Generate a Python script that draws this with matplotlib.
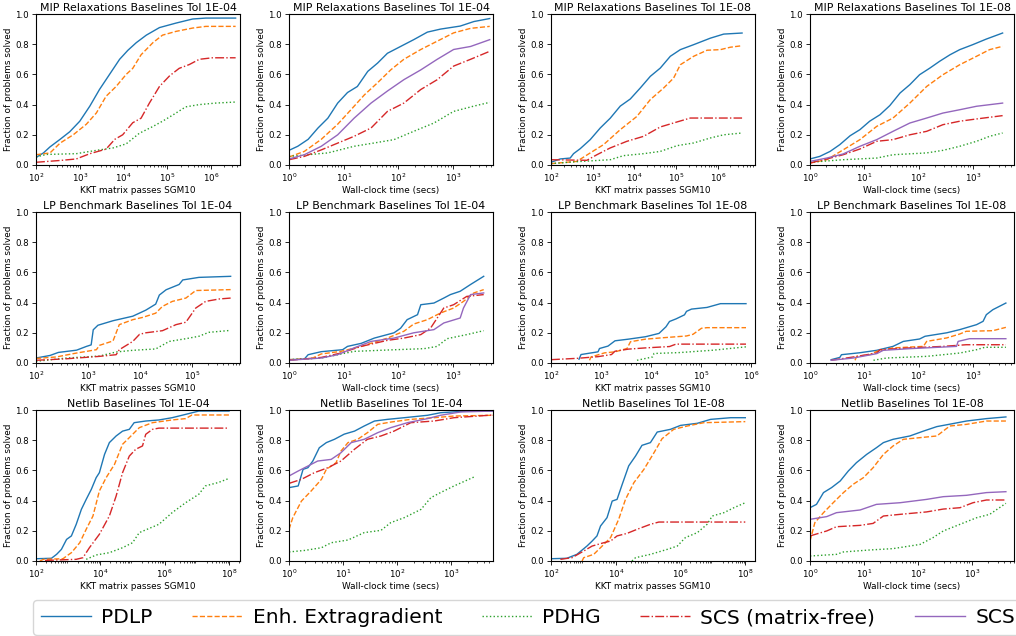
import numpy as np
import matplotlib
matplotlib.use('Agg')
import matplotlib.pyplot as plt

# curves are lists of (log10 of x, fraction solved)

# --- MIP Relaxations, tol 1E-04, KKT passes
mip4_kkt_pdlp = [(2.0, 0.05), (2.17, 0.08), (2.32, 0.12), (2.55, 0.17), (2.77, 0.22), (3.0, 0.29), (3.23, 0.39),
                 (3.45, 0.50), (3.68, 0.60), (3.91, 0.70), (4.1, 0.76), (4.29, 0.81), (4.52, 0.86), (4.82, 0.91),
                 (5.2, 0.94), (5.58, 0.967), (5.88, 0.973), (6.56, 0.973)]
mip4_kkt_eeg = [(2.0, 0.068), (2.32, 0.08), (2.55, 0.145), (2.85, 0.2), (3.15, 0.27), (3.38, 0.345), (3.6, 0.455),
                (3.83, 0.52), (4.06, 0.6), (4.21, 0.64), (4.4, 0.73), (4.67, 0.81), (4.89, 0.86), (5.2, 0.885),
                (5.58, 0.907), (5.88, 0.918), (6.56, 0.918)]
mip4_kkt_pdhg = [(2.0, 0.053), (2.24, 0.07), (2.92, 0.075), (3.38, 0.097), (3.76, 0.113), (4.06, 0.14), (4.36, 0.21),
                 (4.67, 0.255), (4.89, 0.29), (5.12, 0.33), (5.42, 0.385), (5.73, 0.4), (6.1, 0.41), (6.56, 0.417)]
mip4_kkt_scsmf = [(2.0, 0.018), (2.55, 0.03), (2.92, 0.04), (3.23, 0.075), (3.6, 0.105), (3.8, 0.17), (3.98, 0.2),
                  (4.21, 0.28), (4.4, 0.31), (4.59, 0.41), (4.82, 0.52), (5.05, 0.59), (5.27, 0.64), (5.5, 0.665),
                  (5.73, 0.7), (6.03, 0.71), (6.56, 0.71)]

# --- MIP Relaxations, tol 1E-04, wall-clock
mip4_time_pdlp = [(0, 0.097), (0.16, 0.124), (0.35, 0.17), (0.53, 0.245), (0.71, 0.31), (0.89, 0.41), (1.07, 0.48),
                  (1.25, 0.52), (1.44, 0.62), (1.62, 0.675), (1.8, 0.74), (2.04, 0.785), (2.28, 0.83), (2.53, 0.88),
                  (2.77, 0.9), (3.13, 0.92), (3.38, 0.95), (3.67, 0.97)]
mip4_time_eeg = [(0, 0.053), (0.28, 0.09), (0.59, 0.17), (0.89, 0.27), (1.13, 0.365), (1.38, 0.465), (1.62, 0.545),
                 (1.86, 0.63), (2.1, 0.7), (2.41, 0.765), (2.71, 0.82), (3.01, 0.875), (3.32, 0.905), (3.67, 0.918)]
mip4_time_pdhg = [(0, 0.057), (0.28, 0.066), (0.71, 0.08), (1.19, 0.124), (1.56, 0.146), (1.92, 0.168), (2.28, 0.223),
                  (2.65, 0.278), (3.01, 0.355), (3.38, 0.39), (3.67, 0.415)]
mip4_time_scsmf = [(0, 0.035), (0.28, 0.057), (0.59, 0.1), (0.89, 0.145), (1.19, 0.19), (1.5, 0.245), (1.8, 0.355),
                   (2.1, 0.41), (2.41, 0.5), (2.71, 0.565), (3.01, 0.655), (3.32, 0.7), (3.67, 0.753)]
mip4_time_scs = [(0, 0.04), (0.28, 0.068), (0.59, 0.124), (0.89, 0.2), (1.19, 0.31), (1.5, 0.41), (1.8, 0.49),
                 (2.1, 0.565), (2.41, 0.63), (2.71, 0.7), (3.01, 0.765), (3.32, 0.785), (3.67, 0.83)]

# --- MIP Relaxations, tol 1E-08, KKT passes
mip8_kkt_pdlp = [(2, 0.018), (2.22, 0.04), (2.46, 0.046), (2.54, 0.075), (2.7, 0.108), (2.94, 0.168), (3.18, 0.245),
                 (3.42, 0.31), (3.66, 0.39), (3.9, 0.437), (4.14, 0.51), (4.38, 0.587), (4.62, 0.642), (4.86, 0.72),
                 (5.1, 0.764), (5.42, 0.797), (5.82, 0.84), (6.14, 0.867), (6.58, 0.874)]
mip8_kkt_eeg = [(2, 0.009), (2.62, 0.024), (2.94, 0.08), (3.26, 0.135), (3.66, 0.234), (4.06, 0.322), (4.38, 0.433),
                (4.7, 0.51), (4.94, 0.576), (5.1, 0.664), (5.42, 0.72), (5.74, 0.76), (6.06, 0.764), (6.3, 0.78),
                (6.58, 0.79)]
mip8_kkt_pdhg = [(2, 0.009), (2.62, 0.022), (3.42, 0.035), (3.74, 0.062), (4.22, 0.075), (4.62, 0.09), (5.02, 0.128),
                 (5.42, 0.146), (5.82, 0.179), (6.14, 0.2), (6.58, 0.212)]
mip8_kkt_scsmf = [(2, 0.035), (2.86, 0.031), (3.1, 0.068), (3.42, 0.113), (3.82, 0.157), (4.22, 0.19), (4.62, 0.252),
                  (5.02, 0.285), (5.34, 0.311), (6.58, 0.311)]

# --- MIP Relaxations, tol 1E-08, wall-clock
mip8_time_pdlp = [(0, 0.04), (0.18, 0.057), (0.37, 0.09), (0.55, 0.135), (0.74, 0.194), (0.92, 0.234), (1.1, 0.29),
                  (1.29, 0.333), (1.47, 0.393), (1.66, 0.477), (1.84, 0.532), (2.02, 0.598), (2.21, 0.642),
                  (2.39, 0.687), (2.58, 0.73), (2.76, 0.764), (3.0, 0.797), (3.25, 0.834), (3.55, 0.874)]
mip8_time_eeg = [(0, 0.013), (0.31, 0.035), (0.61, 0.1), (0.92, 0.168), (1.23, 0.256), (1.53, 0.311), (1.84, 0.41),
                 (2.15, 0.52), (2.45, 0.598), (2.76, 0.664), (3.07, 0.72), (3.31, 0.764), (3.55, 0.786)]
mip8_time_pdhg = [(0, 0.018), (0.61, 0.035), (1.23, 0.046), (1.53, 0.068), (2.15, 0.08), (2.45, 0.097), (2.76, 0.124),
                  (3.07, 0.157), (3.31, 0.19), (3.55, 0.212)]
mip8_time_scsmf = [(0, 0.013), (0.31, 0.04), (0.61, 0.068), (0.92, 0.106), (1.23, 0.157), (1.53, 0.168), (1.84, 0.2),
                   (2.15, 0.223), (2.45, 0.267), (2.76, 0.29), (3.07, 0.305), (3.55, 0.327)]
mip8_time_scs = [(0, 0.024), (0.31, 0.046), (0.61, 0.073), (0.92, 0.124), (1.23, 0.168), (1.53, 0.223), (1.84, 0.278),
                 (2.15, 0.311), (2.45, 0.344), (2.76, 0.366), (3.07, 0.389), (3.55, 0.41)]

# --- LP Benchmark, tol 1E-04, KKT passes
lp4_kkt_pdlp = [(2, 0.033), (2.27, 0.05), (2.43, 0.07), (2.78, 0.085), (2.97, 0.11), (3.06, 0.12), (3.1, 0.22),
                (3.19, 0.25), (3.48, 0.28), (3.86, 0.31), (4.11, 0.35), (4.3, 0.39), (4.37, 0.45), (4.5, 0.485),
                (4.75, 0.52), (4.82, 0.55), (5.13, 0.567), (5.74, 0.574)]
lp4_kkt_eeg = [(2, 0.03), (2.39, 0.04), (2.78, 0.066), (3.16, 0.088), (3.22, 0.117), (3.48, 0.146), (3.6, 0.254),
               (3.86, 0.287), (4.05, 0.302), (4.3, 0.33), (4.43, 0.375), (4.62, 0.408), (4.88, 0.43), (5.07, 0.48),
               (5.74, 0.486)]
lp4_kkt_pdhg = [(2, 0.011), (2.59, 0.033), (3.22, 0.046), (3.54, 0.073), (3.86, 0.084), (4.3, 0.093), (4.56, 0.143),
                (4.88, 0.161), (5.13, 0.177), (5.32, 0.203), (5.74, 0.216)]
lp4_kkt_scsmf = [(2, 0.018), (2.59, 0.028), (3.22, 0.044), (3.54, 0.055), (3.6, 0.088), (3.86, 0.143), (3.99, 0.19),
                 (4.11, 0.2), (4.43, 0.214), (4.69, 0.254), (4.88, 0.27), (5.07, 0.364), (5.26, 0.408), (5.52, 0.424),
                 (5.74, 0.43)]

# --- LP Benchmark, tol 1E-04, wall-clock
lp4_time_pdlp = [(0, 0.022), (0.28, 0.026), (0.35, 0.055), (0.59, 0.075), (0.98, 0.088), (1.07, 0.11), (1.32, 0.13),
                 (1.56, 0.165), (1.92, 0.2), (2.04, 0.23), (2.16, 0.287), (2.35, 0.32), (2.41, 0.386), (2.65, 0.397),
                 (2.83, 0.43), (2.95, 0.453), (3.13, 0.475), (3.32, 0.52), (3.56, 0.574)]
lp4_time_eeg = [(0, 0.022), (0.41, 0.029), (0.59, 0.06), (0.95, 0.077), (1.32, 0.11), (1.8, 0.165), (2.1, 0.21),
                (2.28, 0.258), (2.53, 0.287), (2.77, 0.331), (3.01, 0.364), (3.19, 0.408), (3.38, 0.464), (3.56, 0.486)]
lp4_time_pdhg = [(0, 0.022), (0.59, 0.033), (1.19, 0.077), (1.8, 0.086), (2.47, 0.095), (2.71, 0.11), (2.89, 0.161),
                 (3.25, 0.188), (3.56, 0.214)]
lp4_time_scsmf = [(0, 0.018), (0.59, 0.037), (0.95, 0.066), (1.32, 0.11), (1.8, 0.15), (2.1, 0.165), (2.41, 0.188),
                  (2.59, 0.232), (2.71, 0.298), (2.83, 0.364), (3.01, 0.386), (3.25, 0.441), (3.56, 0.453)]
lp4_time_scs = [(0, 0.018), (0.59, 0.033), (0.89, 0.055), (1.19, 0.1), (1.5, 0.143), (1.92, 0.165), (2.28, 0.2),
                (2.65, 0.221), (2.83, 0.265), (3.13, 0.298), (3.19, 0.364), (3.32, 0.453), (3.56, 0.464)]

# --- LP Benchmark, tol 1E-08, KKT passes
lp8_kkt_pdlp = [(2.56, 0.025), (2.6, 0.056), (2.94, 0.074), (2.97, 0.096), (3.14, 0.112), (3.28, 0.147), (3.55, 0.158),
                (3.89, 0.174), (4.16, 0.196), (4.3, 0.24), (4.37, 0.275), (4.5, 0.292), (4.67, 0.319), (4.71, 0.342),
                (4.81, 0.357), (5.12, 0.368), (5.39, 0.393), (5.9, 0.393)]
lp8_kkt_eeg = [(2.77, 0.018), (2.8, 0.04), (3.07, 0.067), (3.28, 0.074), (3.52, 0.096), (3.59, 0.141), (3.89, 0.158),
               (4.23, 0.167), (4.71, 0.179), (4.84, 0.19), (5.01, 0.23), (5.12, 0.234), (5.9, 0.234)]
lp8_kkt_pdhg = [(3.72, 0.018), (4.03, 0.04), (4.06, 0.063), (4.57, 0.069), (5.25, 0.085), (5.9, 0.107)]
lp8_kkt_scsmf = [(2, 0.022), (2.53, 0.031), (2.94, 0.042), (3.21, 0.056), (3.28, 0.078), (3.55, 0.092), (3.89, 0.1),
                 (4.37, 0.109), (4.5, 0.125), (5.9, 0.125)]

# --- LP Benchmark, tol 1E-08, wall-clock
lp8_time_pdlp = [(0.39, 0.022), (0.55, 0.037), (0.58, 0.055), (0.92, 0.068), (1.23, 0.084), (1.53, 0.11), (1.72, 0.143),
                 (2.02, 0.159), (2.12, 0.177), (2.52, 0.2), (2.76, 0.221), (3.07, 0.254), (3.19, 0.276), (3.25, 0.32),
                 (3.37, 0.353), (3.61, 0.397)]
lp8_time_eeg = [(0.83, 0.018), (0.86, 0.044), (1.1, 0.055), (1.23, 0.077), (1.53, 0.1), (2.09, 0.11), (2.15, 0.143),
                (2.52, 0.166), (2.76, 0.192), (2.88, 0.21), (3.37, 0.214), (3.61, 0.236)]
lp8_time_pdhg = [(1.17, 0.018), (1.41, 0.033), (2.15, 0.044), (2.76, 0.066), (3.07, 0.088), (3.22, 0.104), (3.61, 0.104)]
lp8_time_scsmf = [(0.39, 0.018), (0.8, 0.04), (1.23, 0.066), (1.29, 0.088), (1.84, 0.1), (2.45, 0.11), (2.88, 0.121),
                  (3.61, 0.121)]
lp8_time_scs = [(0.39, 0.018), (0.8, 0.033), (1.23, 0.062), (1.35, 0.084), (1.84, 0.095), (2.7, 0.11), (2.73, 0.143),
                (2.94, 0.161), (3.61, 0.161)]

# --- Netlib, tol 1E-04, KKT passes
net4_kkt_pdlp = [(2, 0.015), (2.48, 0.018), (2.64, 0.044), (2.79, 0.077), (2.95, 0.143), (3.1, 0.166), (3.25, 0.243),
                 (3.41, 0.342), (3.56, 0.408), (3.72, 0.475), (3.87, 0.552), (3.97, 0.585), (4.13, 0.706),
                 (4.28, 0.784), (4.49, 0.828), (4.69, 0.86), (4.9, 0.872), (5.05, 0.916), (5.41, 0.927),
                 (5.82, 0.934), (6.23, 0.949), (6.65, 0.971), (7.06, 0.993), (8.0, 0.993)]
net4_kkt_eeg = [(2.12, 0.0), (2.23, 0.011), (2.84, 0.015), (2.95, 0.033), (3.1, 0.055), (3.36, 0.121), (3.56, 0.21),
                (3.77, 0.298), (3.97, 0.464), (4.18, 0.552), (4.44, 0.64), (4.69, 0.773), (4.9, 0.817), (5.21, 0.883),
                (5.62, 0.916), (6.23, 0.934), (6.65, 0.943), (6.85, 0.967), (8.0, 0.967)]
net4_kkt_pdhg = [(3.56, 0.011), (3.87, 0.04), (4.28, 0.055), (4.69, 0.088), (5.0, 0.121), (5.21, 0.188), (5.82, 0.243),
                 (6.23, 0.32), (6.65, 0.386), (7.06, 0.442), (7.26, 0.497), (7.67, 0.52), (8.0, 0.547)]
net4_kkt_scsmf = [(2.28, 0.004), (3.25, 0.011), (3.46, 0.022), (3.66, 0.088), (3.97, 0.177), (4.28, 0.298),
                  (4.49, 0.43), (4.69, 0.585), (4.9, 0.695), (5.1, 0.74), (5.31, 0.762), (5.41, 0.839), (5.62, 0.872),
                  (5.82, 0.88), (8.0, 0.88)]

# --- Netlib, tol 1E-04, wall-clock
net4_time_pdlp = [(0, 0.486), (0.17, 0.497), (0.26, 0.607), (0.35, 0.618), (0.44, 0.662), (0.56, 0.75), (0.69, 0.784),
                  (0.84, 0.806), (1.02, 0.84), (1.21, 0.86), (1.39, 0.894), (1.58, 0.927), (1.82, 0.938),
                  (2.13, 0.949), (2.56, 0.965), (2.8, 0.982), (3.29, 0.993), (3.77, 0.993)]
net4_time_eeg = [(0, 0.21), (0.07, 0.287), (0.23, 0.397), (0.41, 0.464), (0.6, 0.541), (0.69, 0.607), (0.87, 0.651),
                 (0.96, 0.728), (1.09, 0.784), (1.27, 0.806), (1.45, 0.85), (1.64, 0.905), (1.88, 0.92), (2.25, 0.938),
                 (2.68, 0.949), (3.05, 0.96), (3.77, 0.965)]
net4_time_pdhg = [(0, 0.06), (0.29, 0.07), (0.6, 0.088), (0.78, 0.121), (1.09, 0.139), (1.39, 0.188), (1.7, 0.203),
                  (1.88, 0.254), (2.13, 0.287), (2.44, 0.342), (2.62, 0.419), (2.8, 0.453), (3.05, 0.497),
                  (3.43, 0.558)]
net4_time_scsmf = [(0, 0.514), (0.23, 0.541), (0.47, 0.585), (0.72, 0.618), (0.96, 0.662), (1.21, 0.74), (1.45, 0.806),
                   (1.7, 0.828), (1.94, 0.86), (2.25, 0.916), (2.68, 0.927), (3.05, 0.949), (3.77, 0.967)]
net4_time_scs = [(0, 0.563), (0.17, 0.596), (0.35, 0.629), (0.53, 0.662), (0.78, 0.673), (0.96, 0.717), (1.15, 0.784),
                 (1.39, 0.806), (1.64, 0.85), (1.88, 0.883), (2.19, 0.916), (2.56, 0.943), (2.8, 0.965), (3.17, 0.987),
                 (3.77, 0.993)]

# --- Netlib, tol 1E-08, KKT passes
net8_kkt_pdlp = [(2, 0.015), (2.49, 0.018), (2.8, 0.044), (3.11, 0.099), (3.27, 0.132), (3.42, 0.166), (3.53, 0.232),
                 (3.73, 0.287), (3.89, 0.397), (4.04, 0.408), (4.2, 0.508), (4.4, 0.63), (4.61, 0.695), (4.81, 0.766),
                 (5.07, 0.784), (5.28, 0.854), (5.69, 0.872), (6.0, 0.898), (6.52, 0.912), (6.93, 0.938),
                 (7.55, 0.949), (8.0, 0.949)]
net8_kkt_eeg = [(2.96, 0.0), (3.01, 0.022), (3.32, 0.044), (3.58, 0.099), (3.84, 0.155), (4.09, 0.276), (4.3, 0.408),
                (4.56, 0.519), (4.87, 0.607), (5.18, 0.717), (5.43, 0.81), (5.79, 0.872), (6.21, 0.894), (6.72, 0.916),
                (8.0, 0.923)]
net8_kkt_pdhg = [(4.5, 0.0), (4.61, 0.022), (5.07, 0.044), (5.59, 0.077), (5.9, 0.099), (6.15, 0.155), (6.52, 0.188),
                 (6.82, 0.243), (6.98, 0.298), (7.34, 0.32), (7.65, 0.353), (8.0, 0.386)]
net8_kkt_scsmf = [(2.29, 0.011), (2.65, 0.022), (3.01, 0.066), (3.27, 0.099), (3.63, 0.121), (3.84, 0.132),
                  (4.04, 0.166), (4.35, 0.183), (4.66, 0.21), (5.07, 0.243), (5.33, 0.258), (8.0, 0.258)]

# --- Netlib, tol 1E-08, wall-clock
net8_time_pdlp = [(0, 0.353), (0.12, 0.375), (0.25, 0.453), (0.4, 0.486), (0.56, 0.53), (0.71, 0.596), (0.86, 0.651),
                  (1.05, 0.706), (1.23, 0.75), (1.36, 0.784), (1.54, 0.806), (1.85, 0.828), (2.1, 0.86), (2.35, 0.89),
                  (2.65, 0.91), (2.9, 0.927), (3.27, 0.943), (3.63, 0.954)]
net8_time_eeg = [(0, 0.132), (0.09, 0.254), (0.25, 0.32), (0.43, 0.386), (0.62, 0.453), (0.8, 0.508), (0.99, 0.552),
                 (1.17, 0.618), (1.36, 0.706), (1.54, 0.762), (1.73, 0.806), (2.04, 0.817), (2.35, 0.828),
                 (2.59, 0.894), (2.9, 0.905), (3.27, 0.927), (3.63, 0.927)]
net8_time_pdhg = [(0, 0.033), (0.49, 0.044), (0.62, 0.06), (1.11, 0.073), (1.54, 0.082), (2.04, 0.11), (2.28, 0.155),
                  (2.47, 0.199), (2.78, 0.243), (3.09, 0.287), (3.33, 0.309), (3.63, 0.382)]
net8_time_scsmf = [(0, 0.166), (0.31, 0.199), (0.49, 0.227), (0.93, 0.236), (1.17, 0.249), (1.36, 0.298),
                   (1.67, 0.309), (2.16, 0.325), (2.47, 0.344), (2.78, 0.353), (3.02, 0.386), (3.27, 0.404),
                   (3.63, 0.404)]
net8_time_scs = [(0, 0.276), (0.31, 0.294), (0.49, 0.32), (0.93, 0.338), (1.23, 0.375), (1.67, 0.386), (2.16, 0.408),
                 (2.47, 0.426), (2.9, 0.435), (3.27, 0.453), (3.63, 0.459)]

solver_names = ['PDLP', 'Enh. Extragradient', 'PDHG', 'SCS (matrix-free)', 'SCS']
solver_styles = [('tab:blue', '-'), ('tab:orange', '--'), ('tab:green', ':'), ('tab:red', '-.'), ('tab:purple', '-')]

# (title, xlabel, curves in solver order (None = not shown), log10 xmax, major tick exponents)
kkt_label = 'KKT matrix passes SGM10'
time_label = 'Wall-clock time (secs)'
panels = [
    ('MIP Relaxations Baselines Tol 1E-04', kkt_label,
     [mip4_kkt_pdlp, mip4_kkt_eeg, mip4_kkt_pdhg, mip4_kkt_scsmf, None], 6.66, [2, 3, 4, 5, 6]),
    ('MIP Relaxations Baselines Tol 1E-04', time_label,
     [mip4_time_pdlp, mip4_time_eeg, mip4_time_pdhg, mip4_time_scsmf, mip4_time_scs], 3.73, [0, 1, 2, 3]),
    ('MIP Relaxations Baselines Tol 1E-08', kkt_label,
     [mip8_kkt_pdlp, mip8_kkt_eeg, mip8_kkt_pdhg, mip8_kkt_scsmf, None], 6.89, [2, 3, 4, 5, 6]),
    ('MIP Relaxations Baselines Tol 1E-08', time_label,
     [mip8_time_pdlp, mip8_time_eeg, mip8_time_pdhg, mip8_time_scsmf, mip8_time_scs], 3.76, [0, 1, 2, 3]),
    ('LP Benchmark Baselines Tol 1E-04', kkt_label,
     [lp4_kkt_pdlp, lp4_kkt_eeg, lp4_kkt_pdhg, lp4_kkt_scsmf, None], 5.92, [2, 3, 4, 5]),
    ('LP Benchmark Baselines Tol 1E-04', time_label,
     [lp4_time_pdlp, lp4_time_eeg, lp4_time_pdhg, lp4_time_scsmf, lp4_time_scs], 3.73, [0, 1, 2, 3]),
    ('LP Benchmark Baselines Tol 1E-08', kkt_label,
     [lp8_kkt_pdlp, lp8_kkt_eeg, lp8_kkt_pdhg, lp8_kkt_scsmf, None], 6.08, [2, 3, 4, 5, 6]),
    ('LP Benchmark Baselines Tol 1E-08', time_label,
     [lp8_time_pdlp, lp8_time_eeg, lp8_time_pdhg, lp8_time_scsmf, lp8_time_scs], 3.76, [0, 1, 2, 3]),
    ('Netlib Baselines Tol 1E-04', kkt_label,
     [net4_kkt_pdlp, net4_kkt_eeg, net4_kkt_pdhg, net4_kkt_scsmf, None], 8.34, [2, 4, 6, 8]),
    ('Netlib Baselines Tol 1E-04', time_label,
     [net4_time_pdlp, net4_time_eeg, net4_time_pdhg, net4_time_scsmf, net4_time_scs], 3.77, [0, 1, 2, 3]),
    ('Netlib Baselines Tol 1E-08', kkt_label,
     [net8_kkt_pdlp, net8_kkt_eeg, net8_kkt_pdhg, net8_kkt_scsmf, None], 8.30, [2, 4, 6, 8]),
    ('Netlib Baselines Tol 1E-08', time_label,
     [net8_time_pdlp, net8_time_eeg, net8_time_pdhg, net8_time_scsmf, net8_time_scs], 3.78, [0, 1, 2, 3]),
]

W, H = 1016, 636
fig = plt.figure(figsize=(W / 100, H / 100), dpi=100)

col_left = [36, 289, 551, 810]
row_top = [14, 212, 410]
ax_w, ax_h = 204, 151

lines = None
for i, (title, xlab, curves, xmax, majors) in enumerate(panels):
    r, c = divmod(i, 4)
    ax = fig.add_axes([col_left[c] / W, 1 - (row_top[r] + ax_h) / H, ax_w / W, ax_h / H])
    ax.set_xscale('log')
    handles = []
    for k, curve in enumerate(curves):
        if curve is None:
            continue
        e, y = np.array(curve).T
        col, ls = solver_styles[k]
        h, = ax.plot(10.0 ** e, y, color=col, linestyle=ls, linewidth=1.0, label=solver_names[k])
        handles.append(h)
    if len(handles) == 5:
        lines = handles
    xmin = 1e2 if xlab == kkt_label else 1e0
    ax.set_xlim(xmin, 10.0 ** xmax)
    ax.set_ylim(0, 1)
    ax.set_xticks([10.0 ** m for m in majors])
    ax.set_yticks([0.0, 0.2, 0.4, 0.6, 0.8, 1.0])
    ax.tick_params(axis='both', labelsize=6.2, length=3, width=0.6, pad=2)
    ax.tick_params(axis='x', which='minor', length=1.5, width=0.5)
    ax.set_title(title, fontsize=7.9, pad=2)
    ax.set_xlabel(xlab, fontsize=6.4, labelpad=1)
    ax.set_ylabel('Fraction of problems solved', fontsize=6.4, labelpad=2)
    for s in ax.spines.values():
        s.set_linewidth(0.8)

fig.legend(lines, solver_names, loc='upper left', ncol=5, mode='expand',
           bbox_to_anchor=(33 / W, 0, 990 / W, 1 - 600 / H), borderaxespad=0,
           fontsize=14.5, handlelength=2.5, handletextpad=0.5, frameon=True)

fig.savefig('out.png', dpi=100)
